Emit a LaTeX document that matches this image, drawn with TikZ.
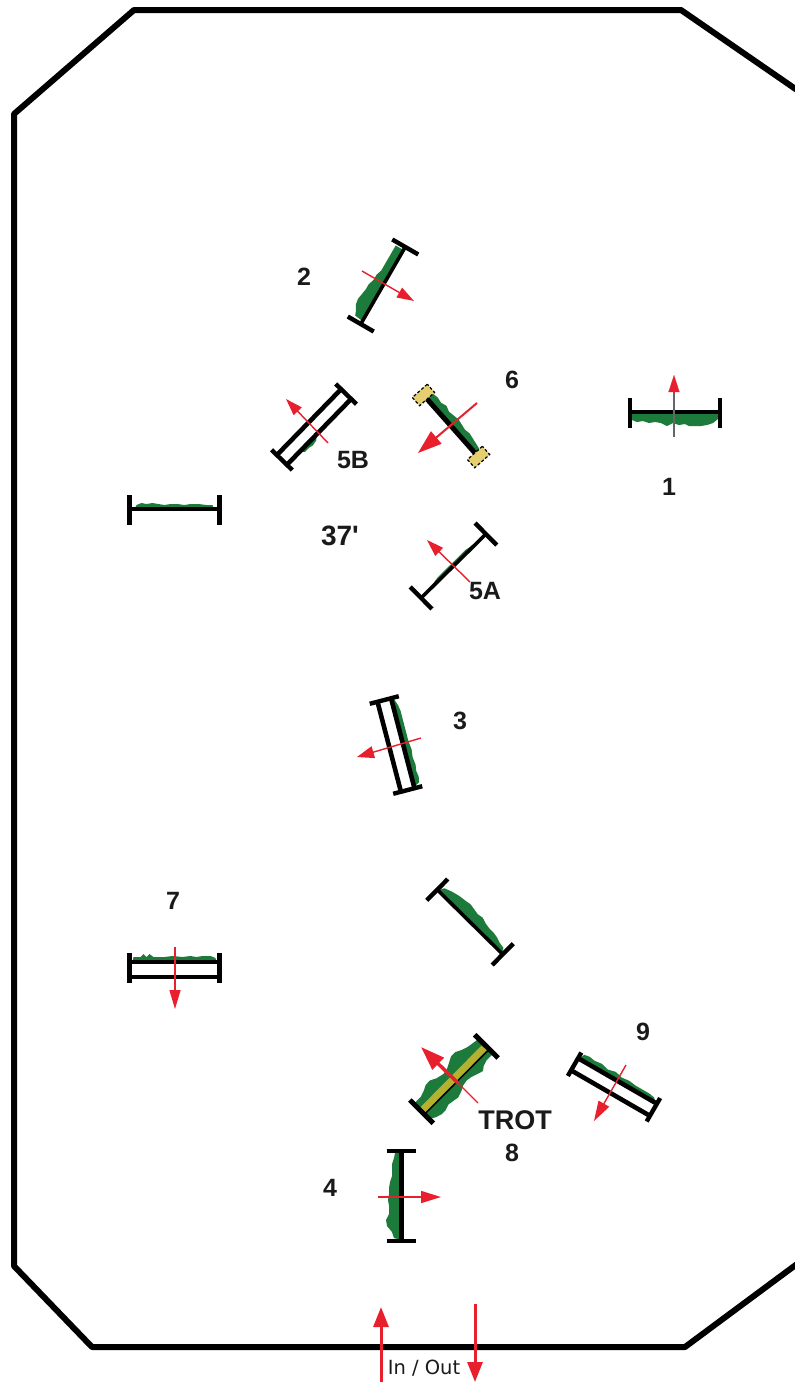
\documentclass[tikz,border=0pt]{standalone}
\usepackage{fontspec}
\setmainfont{Liberation Sans}
\newfontfamily\smallfont{DejaVu Sans}
\newfontfamily\plainlabel{Liberation Sans}
\usetikzlibrary{arrows.meta}
\definecolor{grn}{HTML}{1C7A3A}
\definecolor{arr}{HTML}{E8202E}
\definecolor{gold}{HTML}{E6CF70}
\definecolor{olive}{HTML}{B5B02E}
\definecolor{ink}{HTML}{1A1A1A}
\tikzset{
  x=1pt,y=-1pt,
  rail/.style={draw=black,line width=4.6pt},
  thinrail/.style={draw=black,line width=3.6pt},
  bar/.style={draw=black,line width=4.4pt},
  turf/.style={fill=grn,draw=none},
  num/.style={font=\bfseries\fontsize{25}{25}\selectfont,text=ink,inner sep=0pt},
  redarr/.style n args={3}{draw=arr,line width=#1pt,-{Triangle[length=#2pt,width=#3pt]}},
}
\newcommand{\bars}[2]{%
  \draw[bar] (-#1,-#2) -- (-#1,#2);
  \draw[bar] (#1,-#2) -- (#1,#2);}
\newcommand{\turfpoly}[1]{\fill[turf] plot coordinates {#1} -- cycle;}
\begin{document}
\begin{tikzpicture}
\useasboundingbox (0,0) rectangle (795,1382);
\clip (0,0) rectangle (795,1382);
\fill[white] (0,0) rectangle (795,1382);
% arena
\coordinate (c1) at (797,90);
\coordinate (c2) at (681,10);
\coordinate (c3) at (134,10);
\coordinate (c4) at (14,114);
\coordinate (c5) at (14,1266);
\coordinate (c6) at (92,1347);
\coordinate (c7) at (685,1347);
\coordinate (c8) at (797,1264);
\draw[black,line width=6pt,line join=round] (c1) -- (c2) -- (c3) -- (c4) -- (c5) -- (c6) -- (c7) -- (c8);

% jump 1
\begin{scope}[shift={(675,413)}]
\turfpoly{(-44,0) (-43,7) (-38,9) (-32,8) (-26,10) (-20,9) (-14,10) (-8,13) (-2,10) (4,12) (10,11) (14,13) (20,13) (26,13) (32,12) (38,10) (43,6) (44,0)}
\draw[thinrail] (-45,-1) -- (45,-1);
\bars{45}{15}
\end{scope}
\coordinate (a1s) at (674,437);
\coordinate (a1m) at (674,392);
\coordinate (a1e) at (674,375);
\draw[draw=black!60,line width=1.5pt] (a1s) -- (a1m);
\draw[redarr={0.1}{17}{11}] (a1m) -- (a1e);

% jump 2
\begin{scope}[shift={(383,285.5)},rotate=60]
\turfpoly{(-41,0) (-40,-9) (-35,-11) (-30,-14) (-24,-15) (-18,-14) (-12,-13) (-6,-13) (0,-11) (6,-11) (12,-9) (18,-9) (24,-9) (30,-9) (36,-9) (41,-9) (41,0)}
\draw[thinrail] (-44,0) -- (44,0);
\bars{44.5}{15}
\end{scope}
\coordinate (a2s) at (362,271);
\coordinate (a2e) at (414,301);
\draw[redarr={1.4}{17}{11}] (a2s) -- (a2e);

% jump 5B
\begin{scope}[shift={(314,427)},rotate=45.7]
\turfpoly{(-28,7) (-24,11) (-18,11) (-14,12) (-8,11) (-4,7)}
\draw[rail] (-46,-7) -- (46,-7);
\draw[rail] (-46,7) -- (46,7);
\bars{46}{14.5}
\end{scope}
\coordinate (a5bs) at (328,443);
\coordinate (a5be) at (286,399);
\draw[redarr={1.4}{17}{11}] (a5bs) -- (a5be);

% jump 6
\begin{scope}[shift={(451,426)},rotate=-48.4]
\turfpoly{(-38,0) (-36,-8) (-30,-9) (-24,-8) (-18,-10) (-12,-8) (-6,-9) (0,-10) (6,-9) (12,-8) (18,-9) (24,-8) (30,-7) (36,-6) (38,0)}
\draw[draw=black,line width=5pt] (-38,0) -- (38,0);
\draw[fill=gold,draw=black,line width=1.2pt,densely dashed] (-47,-10) rectangle (-36,10);
\draw[fill=gold,draw=black,line width=1.2pt,densely dashed] (36,-10) rectangle (47,10);
\end{scope}
\coordinate (a6s) at (477,403);
\coordinate (a6e) at (418,453);
\draw[redarr={2}{24}{16}] (a6s) -- (a6e);

% left plain jump
\begin{scope}[shift={(174.5,510)}]
\turfpoly{(-40,-1) (-38,-5) (-33,-7) (-28,-6) (-22,-7) (-16,-6) (-10,-5) (-4,-6) (3,-6) (10,-5) (16,-6) (24,-6) (32,-5) (38,-5) (40,-1)}
\draw[rail] (-45,-1) -- (45,-1);
\bars{45}{15}
\end{scope}

% jump 5A
\begin{scope}[shift={(453.5,566)},rotate=44.6]
\turfpoly{(-30,-1) (-20,-3) (-8,-3) (8,-3) (20,-3) (30,-1)}
\draw[thinrail] (-45.5,0) -- (45.5,0);
\bars{45.5}{15.5}
\end{scope}
\coordinate (a5as) at (470,582);
\coordinate (a5ae) at (427,540);
\draw[redarr={1.4}{17}{11}] (a5as) -- (a5ae);

% jump 3
\begin{scope}[shift={(396,745)},rotate=104.6]
\turfpoly{(-45,7) (-42,13) (-36,14) (-30,13) (-24,14) (-16,13) (-8,14) (0,13) (8,13) (16,13) (24,13) (32,13) (38,12) (44,10) (45,7)}
\draw[rail] (-46,-7) -- (46,-7);
\draw[rail] (-46,7) -- (46,7);
\bars{46.5}{15}
\end{scope}
\coordinate (a3s) at (421,738);
\coordinate (a3e) at (357,757);
\draw[redarr={1.4}{17}{12}] (a3s) -- (a3e);

% unnamed jump
\begin{scope}[shift={(470,922)},rotate=-44.6]
\turfpoly{(-45,0) (-42,-6) (-34,-9) (-26,-11) (-18,-12) (-12,-13) (-6,-12) (0,-11) (6,-12) (12,-10) (18,-9) (24,-9) (30,-8) (36,-6) (42,-5) (45,0)}
\draw[thinrail] (-46,0) -- (46,0);
\bars{46}{15}
\end{scope}

% jump 7
\begin{scope}[shift={(174.5,968)}]
\turfpoly{(-42,-6) (-41,-11) (-34,-11) (-31,-14) (-28,-11) (-25,-14) (-21,-11) (-10,-11) (-2,-12) (8,-11) (16,-12) (22,-11) (28,-12) (36,-12) (41,-10) (42,-6)}
\draw[rail] (-45,-6) -- (45,-6);
\draw[rail] (-45,9) -- (45,9);
\bars{45}{15}
\end{scope}
\coordinate (a7s) at (175,947);
\coordinate (a7e) at (175,1009);
\draw[redarr={1.4}{19}{11}] (a7s) -- (a7e);

% jump 8
\begin{scope}[shift={(454,1079)},rotate=45.2]
\turfpoly{(-45,-11) (-36,-11) (-30,-13) (-24,-16) (-18,-16) (-12,-13) (-4,-11) (2,-12) (8,-15) (14,-18) (20,-18) (26,-15) (32,-13) (38,-12) (45,-11)
 (45,10) (36,10) (30,12) (26,15) (20,13) (14,11) (8,10) (2,11) (-4,14) (-10,16) (-16,15) (-22,14) (-28,16) (-34,16) (-40,14) (-45,11)}
\fill[olive] (-45,-4) rectangle (45,3);
\draw[black,line width=1.5pt] (-45,4) -- (45,4);
\draw[black,line width=5pt] (-46,-16.5) -- (-46,16.5);
\draw[black,line width=5pt] (46,-16.5) -- (46,16.5);
\end{scope}
\coordinate (a8s) at (478,1103);
\coordinate (a8m) at (458,1083);
\coordinate (a8e) at (421,1047);
\draw[draw=arr,line width=1.2pt] (a8s) -- (a8m);
\draw[redarr={3.5}{24}{16}] (a8m) -- (a8e);

% jump 9
\begin{scope}[shift={(614,1087)},rotate=-30]
\turfpoly{(-44,-7) (-42,-13) (-36,-14) (-30,-13) (-22,-14) (-14,-12) (-6,-14) (2,-12) (10,-13) (18,-12) (26,-12) (34,-12) (40,-11) (44,-7)}
\draw[rail] (-45.5,-7) -- (45.5,-7);
\draw[rail] (-45.5,7) -- (45.5,7);
\bars{45.5}{13.5}
\end{scope}
\coordinate (a9s) at (626,1065);
\coordinate (a9e) at (594,1121);
\draw[redarr={1.4}{20}{12}] (a9s) -- (a9e);

% jump 4
\begin{scope}[shift={(401,1196)},rotate=90]
\turfpoly{(-44,0) (-42,-7) (-36,-9) (-30,-14) (-24,-15) (-18,-12) (-10,-12) (-4,-13) (2,-12) (8,-12) (14,-11) (20,-9) (26,-9) (32,-9) (38,-7) (43,-6) (44,0)}
\draw[draw=black,line width=5pt] (-45,0) -- (45,0);
\bars{45}{14.5}
\end{scope}
\coordinate (a4s) at (378,1197);
\coordinate (a4e) at (441,1197);
\draw[redarr={1.6}{20}{12}] (a4s) -- (a4e);

% in / out
\coordinate (ins) at (381,1383);
\coordinate (ine) at (381,1307);
\coordinate (outs) at (475,1304);
\coordinate (oute) at (475,1382);
\draw[redarr={3}{20}{15}] (ins) -- (ine);
\draw[redarr={3}{20}{15}] (outs) -- (oute);

% labels
\node[num] (l1) at (669,487) {1};
\node[num] (l2) at (304,277) {2};
\node[num] (l3) at (460,721) {3};
\node[num] (l4) at (330,1188) {4};
\node[num] (l5a) at (485,591) {5A};
\node[num] (l5b) at (353,460) {5B};
\node[num] (l6) at (512,380) {6};
\node[num] (l7) at (173,901) {7};
\node[num] (l8) at (512,1153) {8};
\node[num] (l9) at (643,1032) {9};
\node[num,font=\plainlabel\bfseries\fontsize{28}{28}\selectfont] (l37) at (340,536) {37'};
\node[num,font=\bfseries\fontsize{27}{27}\selectfont] (ltrot) at (515,1120) {TROT};
\node[inner sep=0pt,font=\smallfont\fontsize{19.5}{20}\selectfont,text=ink] (lio) at (424,1368) {In / Out};
\end{tikzpicture}
\end{document}
